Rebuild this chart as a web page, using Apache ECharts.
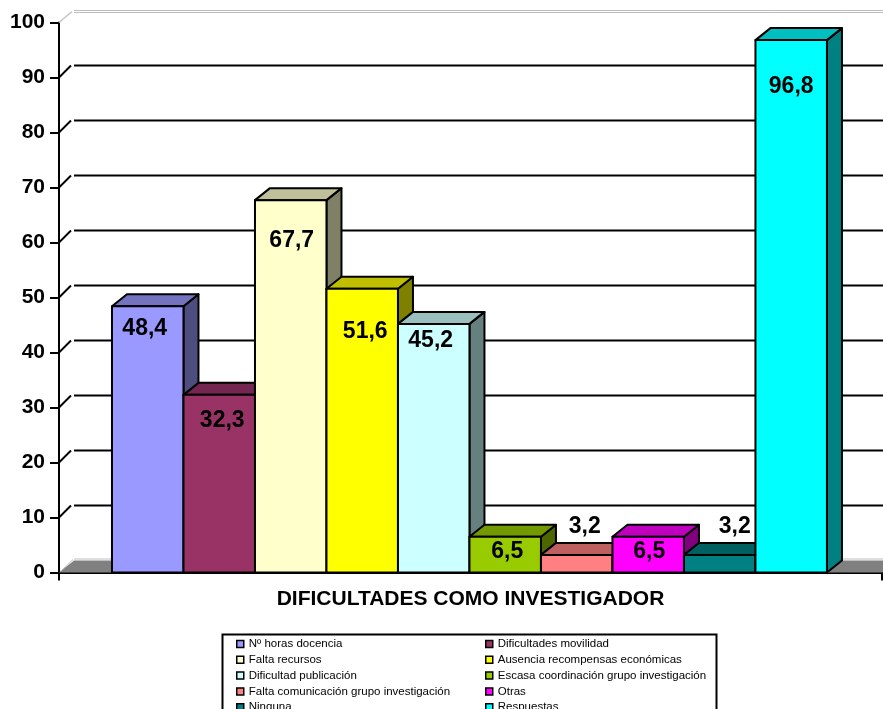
<!DOCTYPE html>
<html><head><meta charset="utf-8">
<style>html,body{margin:0;padding:0;background:#fff}#c{width:883px;height:709px}</style>
<script src="https://cdn.jsdelivr.net/npm/echarts@6/dist/echarts.min.js"></script></head>
<body><div id="c"></div>
<script>
const categories = ['Nº horas docencia','Dificultades movilidad','Falta recursos','Ausencia recompensas económicas','Dificultad publicación','Escasa coordinación grupo investigación','Falta comunicación grupo investigación','Otras','Ninguna','Respuestas'];
const values = [48.4,32.3,67.7,51.6,45.2,6.5,3.2,6.5,3.2,96.8];
const yTicks = [0,10,20,30,40,50,60,70,80,90,100];
const frontColors = ['#9999FF','#993366','#FFFFCC','#FFFF00','#CCFFFF','#99CC00','#FF8080','#FF00FF','#008080','#00FFFF'];
const topColors = ['#7373BF','#732650','#BFBF99','#BFBF00','#99BFBF','#739900','#BF6060','#BF00BF','#006060','#00BFBF'];
const sideColors = ['#4D4D80','#4D1A33','#808066','#808000','#668080','#4D6600','#804040','#800080','#004040','#008080'];
const labelNudge = [[-3,22],[3,26],[1,41],[3,43],[-3,17],[2,15],[8,-28],[1,15],[15,-28],[0,47]];
const xMin = -0.741, xMax = 10.77, DX = 15, DY = -12;
const FONT = '"Liberation Sans", Arial, sans-serif';

function renderBar(params, api){
  const i = api.value(0), v = api.value(1);
  const a = api.coord([i,0]), b = api.coord([i+1,v]);
  const x0=a[0], x1=b[0], y0=a[1], y1=b[1];
  const line={stroke:'#000',lineWidth:2,lineJoin:'round'};
  const t=labelNudge[i];
  return {type:'group',children:[
    {type:'polygon',shape:{points:[[x1,y0],[x1+DX,y0+DY],[x1+DX,y1+DY],[x1,y1]]},style:{fill:sideColors[i],...line}},
    {type:'polygon',shape:{points:[[x0,y1],[x0+DX,y1+DY],[x1+DX,y1+DY],[x1,y1]]},style:{fill:topColors[i],...line}},
    {type:'rect',shape:{x:x0,y:y1,width:x1-x0,height:y0-y1},style:{fill:frontColors[i],...line}},
    {type:'text',z2:10,style:{x:(x0+x1)/2+t[0],y:y1+t[1],text:v.toFixed(1).replace('.',','),align:'center',verticalAlign:'middle',font:'bold 23px '+FONT,fill:'#000'}}
  ]};
}
function renderWall(params, api){
  const v = api.value(0);
  const a = api.coord([xMin,v]), b = api.coord([xMax,v]);
  if(v===0){
    return {type:'group',children:[
      {type:'polygon',shape:{points:[[a[0],a[1]],[a[0]+DX,a[1]+DY],[b[0]+DX,a[1]+DY],[b[0],a[1]]]},style:{fill:'#808080'}},
      {type:'line',shape:{x1:a[0]+15,y1:a[1]+DY-1.5,x2:b[0]+DX,y2:a[1]+DY-1.5},style:{stroke:'#c0c0c0',lineWidth:1}},
      {type:'line',shape:{x1:a[0]+2,y1:a[1]-1.5,x2:a[0]+14,y2:a[1]+DY-1},style:{stroke:'#c0c0c0',lineWidth:1}}
    ]};
  }
  if(v===100){
    return {type:'group',children:[
      {type:'line',shape:{x1:a[0]+15,y1:a[1]+DY,x2:b[0]+DX,y2:a[1]+DY},style:{stroke:'#bdbdbd',lineWidth:1}},
      {type:'line',shape:{x1:a[0]+15,y1:a[1]+DY+2,x2:b[0]+DX,y2:a[1]+DY+2},style:{stroke:'#bdbdbd',lineWidth:1}},
      {type:'line',shape:{x1:a[0],y1:a[1],x2:a[0]+13,y2:a[1]+DY+1},style:{stroke:'#c4c4c4',lineWidth:1.5}}
    ]};
  }
  return {type:'group',children:[
    {type:'line',shape:{x1:a[0]+15,y1:a[1]+DY,x2:b[0]+DX,y2:a[1]+DY},style:{stroke:'#000',lineWidth:2}},
    {type:'line',shape:{x1:a[0],y1:a[1],x2:a[0]+12,y2:a[1]+DY},style:{stroke:'#000',lineWidth:2}}
  ]};
}
const legendBase = {orient:'vertical',icon:'rect',itemWidth:7,itemHeight:7,itemGap:3.8,selectedMode:false,padding:0,height:120,
  itemStyle:{borderColor:'#000',borderWidth:1.5},
  textStyle:{fontFamily:FONT,fontSize:11.5,color:'#000',padding:[0,0,0,0]}};
const chart = echarts.init(document.getElementById('c'),null,{renderer:'canvas'});
chart.setOption({
  animation:false,
  backgroundColor:'#fff',
  grid:{left:59,right:1,top:22.5,bottom:136.5,containLabel:false},
  xAxis:{type:'value',min:xMin,max:xMax,name:'DIFICULTADES COMO INVESTIGADOR',nameLocation:'middle',nameGap:16,
    nameTextStyle:{fontFamily:FONT,fontWeight:'bold',fontSize:21,color:'#000'},
    axisLine:{show:true,onZero:false,lineStyle:{color:'#000',width:2}},
    axisTick:{show:true,customValues:[xMin,xMax],length:8,lineStyle:{color:'#000',width:2}},
    axisLabel:{show:false},splitLine:{show:false}},
  yAxis:{type:'value',min:0,max:100,interval:10,
    axisLine:{show:true,onZero:false,lineStyle:{color:'#000',width:2}},
    axisTick:{show:true,length:9,lineStyle:{color:'#000',width:2}},
    axisLabel:{fontFamily:FONT,fontWeight:'bold',fontSize:21,color:'#000',margin:14},
    splitLine:{show:false}},
  legend:[
    {...legendBase,left:236,top:638,data:categories.filter((c,i)=>i%2===0)},
    {...legendBase,left:485,top:638,data:categories.filter((c,i)=>i%2===1)}
  ],
  graphic:[{type:'rect',z:-1,shape:{x:222.5,y:634.5,width:494,height:90},style:{fill:'#fff',stroke:'#000',lineWidth:2}}],
  series:[
    {type:'custom',name:'wall',silent:true,clip:false,z:1,renderItem:renderWall,data:yTicks.map(v=>[v]),encode:{y:0}},
    ...categories.map((c,i)=>({type:'custom',name:c,clip:false,z:2+i,renderItem:renderBar,
      itemStyle:{color:frontColors[i]},data:[[i,values[i]]],encode:{x:0,y:1}}))
  ]
});
</script></body></html>
